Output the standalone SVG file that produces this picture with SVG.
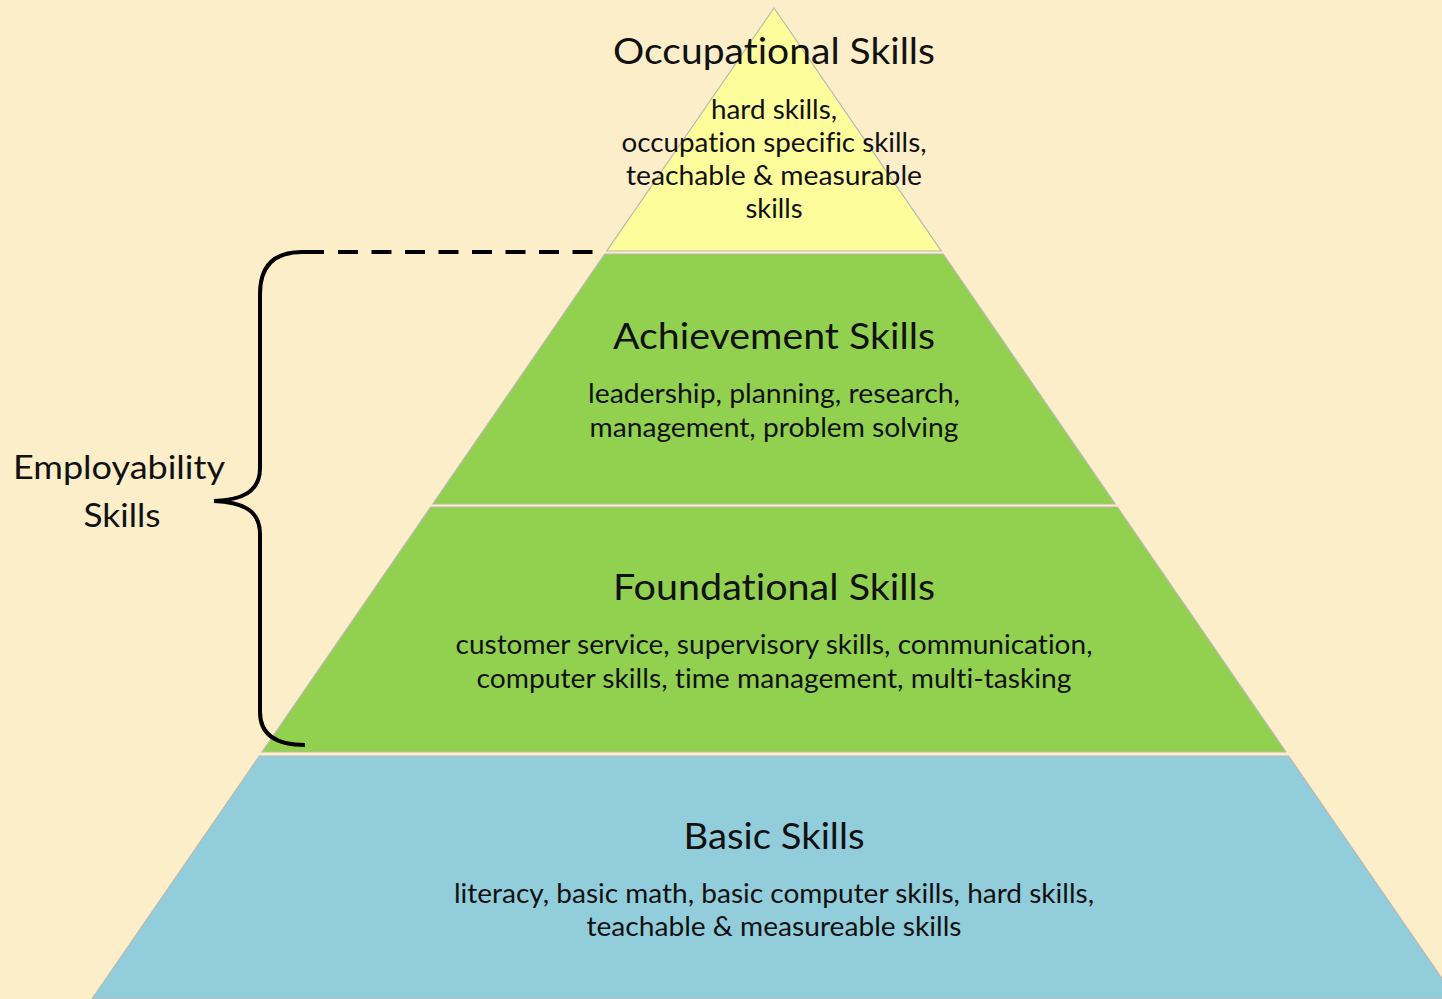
<svg xmlns="http://www.w3.org/2000/svg" width="1442" height="999" viewBox="0 0 1442 999">
<style>
.layer{stroke:#b8b8b0;stroke-width:1.2}
.t{font-family:Lato,"Open Sans",sans-serif;fill:#111;text-anchor:middle;font-variant-ligatures:none;font-feature-settings:"liga" 0,"clig" 0}
.h{font-size:37px}
.s{font-size:26px}
</style>
<rect x="0" y="0" width="1442" height="999" fill="#fdeeca"/>
<g id="occupational">
<polygon class="layer" fill="#fdfd9c" points="774,8 941.2,251 606.8,251"/>
<text class="t h" x="774" y="64" textLength="322" lengthAdjust="spacingAndGlyphs">Occupational Skills</text>
<text class="t s" x="774" y="119" textLength="126" lengthAdjust="spacingAndGlyphs">hard skills,</text>
<text class="t s" x="774" y="152" textLength="305" lengthAdjust="spacingAndGlyphs">occupation specific skills,</text>
<text class="t s" x="774" y="185" textLength="296" lengthAdjust="spacingAndGlyphs">teachable &amp; measurable</text>
<text class="t s" x="774" y="218" textLength="57" lengthAdjust="spacingAndGlyphs">skills</text>
</g>
<g id="achievement">
<polygon class="layer" fill="#92d150" points="604.8,254 943.2,254 1115.2,504 432.8,504"/>
<text class="t h" x="774" y="349" textLength="322" lengthAdjust="spacingAndGlyphs">Achievement Skills</text>
<text class="t s" x="774" y="403" textLength="372" lengthAdjust="spacingAndGlyphs">leadership, planning, research,</text>
<text class="t s" x="774" y="437" textLength="369" lengthAdjust="spacingAndGlyphs">management, problem solving</text>
</g>
<g id="foundational">
<polygon class="layer" fill="#92d150" points="430.7,507 1117.3,507 1285.9,752 262.1,752"/>
<text class="t h" x="774" y="600" textLength="322" lengthAdjust="spacingAndGlyphs">Foundational Skills</text>
<text class="t s" x="774" y="654" textLength="637" lengthAdjust="spacingAndGlyphs">customer service, supervisory skills, communication,</text>
<text class="t s" x="774" y="688" textLength="595" lengthAdjust="spacingAndGlyphs">computer skills, time management, multi-tasking</text>
</g>
<g id="basic">
<polygon class="layer" fill="#92cddc" points="259.4,756 1288.6,756 1456,999 92,999"/>
<text class="t h" x="774" y="849" textLength="181" lengthAdjust="spacingAndGlyphs">Basic Skills</text>
<text class="t s" x="774" y="903" textLength="640" lengthAdjust="spacingAndGlyphs">literacy, basic math, basic computer skills, hard skills,</text>
<text class="t s" x="774" y="936" textLength="375" lengthAdjust="spacingAndGlyphs">teachable &amp; measureable skills</text>
</g>
<g id="employability">
<text class="t" style="font-size:33px" x="119" y="479" textLength="212" lengthAdjust="spacingAndGlyphs">Employability</text>
<text class="t" style="font-size:33px" x="122" y="527" textLength="77" lengthAdjust="spacingAndGlyphs">Skills</text>
</g>
<g id="connectors" fill="none" stroke="#000" stroke-width="4">
<path d="M338,252 L600,252" stroke-dasharray="20,13.5"/>
<path d="M324,252 L302,252 Q260,252 260,294 L260,468 C260,492 242,500 214,501 C242,502 260,510 260,534 L260,712 Q260,745 305,745"/>
</g>
</svg>
